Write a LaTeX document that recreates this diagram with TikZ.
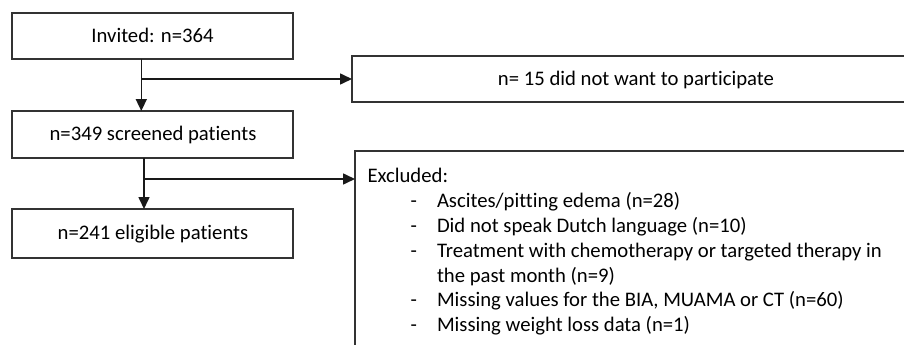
\documentclass[tikz,border=0pt]{standalone}
\usepackage{fontspec}
\setmainfont{Carlito}[Ligatures=NoCommon]
\usetikzlibrary{arrows.meta}
\begin{document}
\begin{tikzpicture}[x=1pt,y=-1pt,
  box/.style={draw=black!80,line width=1.5pt,rectangle,inner sep=0pt,outer sep=0pt},
  lbl/.style={inner sep=0pt,outer sep=0pt,anchor=base,text=black},
  item/.style={inner sep=0pt,outer sep=0pt,anchor=base west,text=black},
  arr/.style={draw=black!90,line width=1.6pt,-{Triangle[length=12pt,width=11pt]}},
  font=\fontsize{20.7pt}{24.9pt}\selectfont]
\useasboundingbox (0,0) rectangle (904,345);
\clip (0,0) rectangle (904,345);
% boxes
\node[box,minimum width=281pt,minimum height=46pt] (b1) at (152.5,36) {};
\node[box,minimum width=281pt,minimum height=47pt] (b3) at (152.5,134.5) {};
\node[box,minimum width=281pt,minimum height=49pt] (b4) at (152.5,233.5) {};
\node[box,minimum width=568pt,minimum height=46pt] (b2) at (636,79) {};
\node[box,minimum width=600pt,minimum height=220pt] (b5) at (655,261) {};
% texts
\node[lbl] (t1) at (152.5,42) {Invited: n=364};
\node[lbl] (t3) at (153,140) {n=349 screened patients};
\node[lbl] (t4) at (153,239) {n=241 eligible patients};
\node[lbl] (t2) at (636,85) {n= 15 did not want to participate};
\node[item] (ex) at (367.5,182.5) {Excluded:};
\foreach \y/\t [count=\i] in {207.4/{Ascites/pitting edema (n=28)},
  232.3/{Did not speak Dutch language (n=10)},
  257.2/{Treatment with chemotherapy or targeted therapy in},
  306.9/{Missing values for the BIA, MUAMA or CT (n=60)},
  331.8/{Missing weight loss data (n=1)}}{
  \node[item] (d\i) at (410.5,\y) {-};
  \node[item] (e\i) at (437,\y) {\t};
}
\node[item] (e3b) at (437,282.1) {the past month (n=9)};
% connectors
\coordinate (j1) at (141.3,79);
\coordinate (j2) at (144,179);
\draw[arr] (b1.south -| j1) -- (b3.north -| j1);
\draw[arr] (j1) -- (b2.west |- j1);
\draw[arr] (b3.south -| j2) -- (b4.north -| j2);
\draw[arr] (j2) -- (b5.west |- j2);
\end{tikzpicture}
\end{document}
